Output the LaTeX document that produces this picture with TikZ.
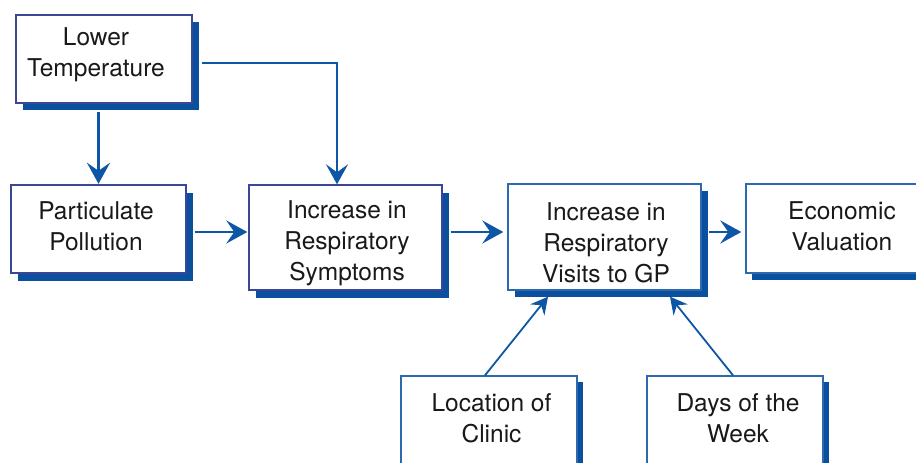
\documentclass[tikz,border=0pt]{standalone}
\usepackage{fontspec}
\setmainfont{TeX Gyre Heros}
\usetikzlibrary{arrows.meta,calc}
\definecolor{shadowblue}{RGB}{10,80,158}
\definecolor{arrowblue}{RGB}{12,86,164}
\definecolor{borderA}{RGB}{60,70,150}
\definecolor{borderB}{RGB}{45,105,175}
\definecolor{txtgray}{RGB}{25,25,25}
\tikzset{
  boxA/.style={draw=borderA, line width=1.4pt, fill=white, rectangle, inner sep=0pt},
  boxB/.style={draw=borderB, line width=1.4pt, fill=white, rectangle, inner sep=0pt},
  shadowbox/.style={fill=shadowblue, draw=none, rectangle, inner sep=0pt},
  txt/.style={align=center, text=txtgray, inner sep=0pt, font=\fontsize{24.5}{31}\selectfont},
  arr/.style={draw=arrowblue, line width=2.6pt, -{Stealth[length=21pt,width=23pt,inset=8pt]}},
  arrthin/.style={draw=arrowblue, line width=2pt, -{Stealth[length=20pt,width=22pt,inset=8pt]}},
  arrdiag/.style={draw=arrowblue, line width=1.8pt, -{Stealth[length=17pt,width=18pt,inset=6pt]}},
}
\begin{document}
\begin{tikzpicture}[x=1pt,y=-1pt]
\useasboundingbox (0,0) rectangle (916,463);
\clip (0,0) rectangle (916,463);
\coordinate (rowy) at (0,232);
% shadows
\node[shadowbox, minimum width=176pt, minimum height=88pt] (lts) at (110.5,66) {};
\node[shadowbox, minimum width=175pt, minimum height=88pt] (pps) at (105,236.5) {};
\node[shadowbox, minimum width=193pt, minimum height=105pt] (sys) at (352.5,245) {};
\node[shadowbox, minimum width=193pt, minimum height=106pt] (vis) at (611,244) {};
\node[shadowbox, minimum width=190pt, minimum height=89pt] (ecs) at (847,235) {};
\node[shadowbox, minimum width=176pt, minimum height=96pt] (locs) at (495,430) {};
\node[shadowbox, minimum width=176pt, minimum height=96pt] (days) at (741,430) {};
% boxes
\node[boxA, minimum width=176pt, minimum height=88pt] (lt) at (104,59) {};
\node[boxA, minimum width=175pt, minimum height=88pt] (pp) at (98.5,229) {};
\node[boxA, minimum width=193pt, minimum height=105pt] (sy) at (345.5,237.5) {};
\node[boxB, minimum width=193pt, minimum height=106pt] (vi) at (604.5,237) {};
\node[boxB, minimum width=190pt, minimum height=89pt] (ec) at (841,228.5) {};
\node[boxB, minimum width=176pt, minimum height=96pt] (loc) at (489,424) {};
\node[boxB, minimum width=176pt, minimum height=96pt] (dw) at (735,424) {};
% texts
\node[txt] (ltt) at (96,55) {Lower\\Temperature};
\node[txt] (ppt) at (96,226.5) {Particulate\\Pollution};
\node[txt] (syt) at (347,243.5) {Increase in\\Respiratory\\Symptoms};
\node[txt] (vit) at (606,242.5) {Increase in\\Respiratory\\Visits to GP};
\node[txt] (ect) at (842,226.5) {Economic\\Valuation};
\node[txt] (loct) at (491.5,418) {Location of\\Clinic};
\node[txt] (dwt) at (738,418) {Days of the\\Week};
% connectors
\draw[arr, line width=3pt, shorten <=8pt, shorten >=0.5pt] (lt.south -| pp.north) -- (pp.north);
\draw[arrthin] ([xshift=9pt,yshift=-4pt]lt.east) -| ([xshift=-8.5pt]sy.north);
\draw[arr, shorten <=8pt, shorten >=1pt] (pp.east |- rowy) -- (sy.west |- rowy);
\draw[arr, shorten <=8pt, shorten >=4pt] (sy.east |- rowy) -- (vi.west |- rowy);
\draw[arr, shorten <=7pt, shorten >=4pt] (vi.east |- rowy) -- (ec.west |- rowy);
\draw[arrdiag] ([xshift=-4pt]loc.north) -- ([xshift=-56.5pt,yshift=-6pt]vi.south);
\draw[arrdiag] ([xshift=-2pt]dw.north) -- ([xshift=65.5pt,yshift=-6pt]vi.south);
\end{tikzpicture}
\end{document}
